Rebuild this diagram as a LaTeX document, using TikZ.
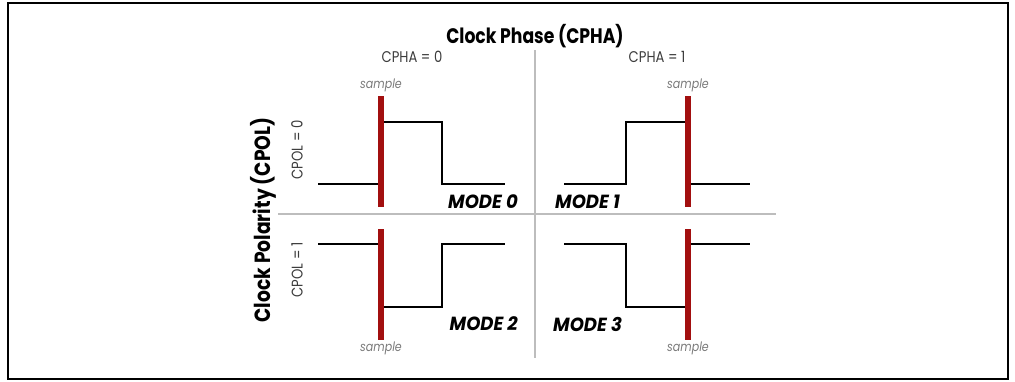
\documentclass[tikz,border=0pt]{standalone}
\usepackage{fontspec}
\setmainfont{Poppins}
\newfontfamily\titlefont[FakeStretch=0.82]{Poppins}
\newfontfamily\labelfont[FakeStretch=0.85]{Poppins}
\newfontfamily\modefont[FakeStretch=0.95]{Poppins}
\definecolor{samplered}{HTML}{A20F0F}
\definecolor{divgray}{HTML}{BDBDBD}
\definecolor{labgray}{HTML}{3C3C3C}
\definecolor{smpgray}{HTML}{7A7A7A}
\begin{document}
\begin{tikzpicture}[x=1pt,y=-1pt,
  frame/.style={draw=black,line width=2pt},
  divider/.style={draw=divgray,line width=1.3pt},
  signal/.style={draw=black,line width=2.8pt,line join=miter},
  sampleline/.style={draw=samplered,line width=6pt},
  titletext/.style={font=\titlefont\bfseries\fontsize{21}{23}\selectfont,inner sep=0pt},
  cphatext/.style={font=\labelfont\fontsize{15.5}{17}\selectfont,text=labgray,inner sep=0pt},
  sampletext/.style={font=\labelfont\itshape\fontsize{13}{15}\selectfont,text=smpgray,inner sep=0pt},
  modetext/.style={font=\modefont\bfseries\itshape\fontsize{19}{21}\selectfont,inner sep=0pt}]
\useasboundingbox (0,0) rectangle (1015,381);
\draw[frame] (8,3) rectangle (1008,379);
% dividers
\draw[divider] (535,50) -- (535,358);
\draw[divider] (278,214) -- (776,214);
% titles
\node[titletext] (title) at (535,36) {Clock Phase (CPHA)};
\node[titletext,rotate=90,font=\labelfont\bfseries\fontsize{22}{24}\selectfont] (ytitle) at (263,220) {Clock Polarity (CPOL)};
\node[cphatext] (cpha0) at (412,57) {CPHA = 0};
\node[cphatext] (cpha1) at (657,57) {CPHA = 1};
\node[cphatext,rotate=90] (cpol0) at (297,150) {CPOL = 0};
\node[cphatext,rotate=90] (cpol1) at (297,270) {CPOL = 1};
% sample labels
\node[sampletext] (s0) at (381,85) {sample};
\node[sampletext] (s1) at (688,85) {sample};
\node[sampletext] (s2) at (381,348) {sample};
\node[sampletext] (s3) at (688,348) {sample};
% signals
\draw[signal] (318,184) -- (381,184) -- (381,122) -- (442,122) -- (442,184) -- (505,184);
\draw[signal] (564,184) -- (626,184) -- (626,122) -- (688,122) -- (688,184) -- (750,184);
\draw[signal] (318,244) -- (381,244) -- (381,307) -- (442,307) -- (442,244) -- (505,244);
\draw[signal] (564,244) -- (626,244) -- (626,307) -- (688,307) -- (688,244) -- (750,244);
% sample lines
\draw[sampleline] (381,96) -- (381,207);
\draw[sampleline] (688,96) -- (688,207);
\draw[sampleline] (381,229) -- (381,340);
\draw[sampleline] (688,229) -- (688,340);
% mode labels
\node[modetext,anchor=east] (m0) at (518,202) {MODE 0};
\node[modetext,anchor=west] (m1) at (555,202) {MODE 1};
\node[modetext,anchor=east] (m2) at (518,324) {MODE 2};
\node[modetext,anchor=west] (m3) at (553,324) {MODE 3};
\end{tikzpicture}
\end{document}
